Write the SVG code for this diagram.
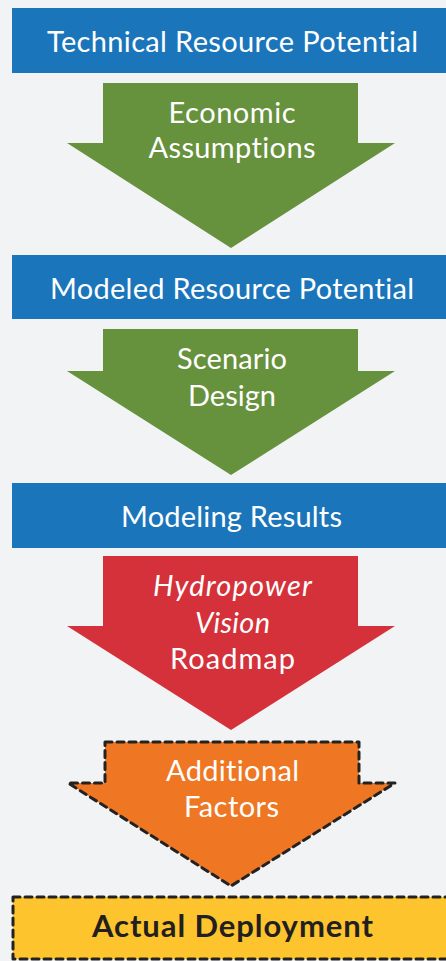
<svg xmlns="http://www.w3.org/2000/svg" width="446" height="961" viewBox="0 0 446 961">
<style>
.t{font-family:Lato,"Open Sans","Liberation Sans",sans-serif;font-size:29px;fill:#ffffff;text-anchor:middle;font-variant-ligatures:none}
.b{font-family:Lato,"Open Sans","Liberation Sans",sans-serif;font-size:31px;font-weight:bold;fill:#231f20;text-anchor:middle}
.blue{fill:#1b75bb}
.green{fill:#66913d}
.dash{stroke:#222222;stroke-width:3;stroke-dasharray:7 5;stroke-linecap:round;stroke-linejoin:round}
</style>
<rect width="446" height="961" fill="#f2f3f5"/>
<g id="technical-resource-potential">
<rect class="blue" x="12" y="8" width="440" height="65"/>
<text class="t" x="232.5" y="52" textLength="371" lengthAdjust="spacing">Technical Resource Potential</text>
</g>
<g id="economic-assumptions">
<polygon class="green" points="103,83 358,83 358,143 395,143 231,248 67,143 103,143"/>
<text class="t" x="232" y="123" textLength="127" lengthAdjust="spacing">Economic</text>
<text class="t" x="232" y="158" textLength="167" lengthAdjust="spacing">Assumptions</text>
</g>
<g id="modeled-resource-potential">
<rect class="blue" x="12" y="255" width="440" height="64"/>
<text class="t" x="232" y="299" textLength="364" lengthAdjust="spacing">Modeled Resource Potential</text>
</g>
<g id="scenario-design">
<polygon class="green" points="103,329 358,329 358,371 395,371 231,475 67,371 103,371"/>
<text class="t" x="232" y="369" textLength="110" lengthAdjust="spacing">Scenario</text>
<text class="t" x="232" y="406" textLength="88" lengthAdjust="spacing">Design</text>
</g>
<g id="modeling-results">
<rect class="blue" x="12" y="483" width="440" height="65"/>
<text class="t" x="231.5" y="527" textLength="221" lengthAdjust="spacing">Modeling Results</text>
</g>
<g id="hydropower-vision-roadmap">
<polygon fill="#d5313a" points="103,556 358,556 358,626 395,626 231,730 67,626 103,626"/>
<text class="t" x="232.5" y="596" font-style="italic" textLength="159" lengthAdjust="spacing">Hydropower</text>
<text class="t" x="232.5" y="633" font-style="italic" textLength="75" lengthAdjust="spacing">Vision</text>
<text class="t" x="232.5" y="669" textLength="125" lengthAdjust="spacing">Roadmap</text>
</g>
<g id="additional-factors">
<polygon class="dash" fill="#ef7724" points="105,742 359,742 359,783 395,783 231,886 68,783 105,783"/>
<text class="t" x="232.5" y="781" textLength="133" lengthAdjust="spacing">Additional</text>
<text class="t" x="231.5" y="817" textLength="95" lengthAdjust="spacing">Factors</text>
</g>
<g id="actual-deployment">
<rect class="dash" fill="#fec42d" x="13" y="897" width="450" height="62"/>
<text class="b" x="232.5" y="937" textLength="281" lengthAdjust="spacing">Actual Deployment</text>
</g>
<g id="connectors"/>
</svg>
